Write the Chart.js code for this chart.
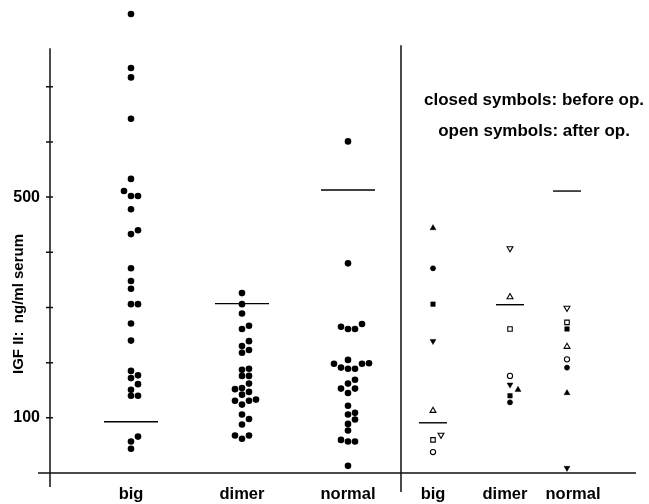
<!DOCTYPE html>
<html>
<head>
<title>IGF II serum levels</title>
<script src="https://cdn.jsdelivr.net/npm/chart.js"></script>
<style>
  html, body { margin: 0; padding: 0; background: #fff; }
  #wrap { width: 649px; height: 504px; }
</style>
</head>
<body>
<div id="wrap"><canvas id="igfChart"></canvas></div>
<script>
// categories and where they sit on the (linear) x axis
const groups = ['big', 'dimer', 'normal', 'big', 'dimer', 'normal'];
const groupX = [81, 192, 298, 383, 460, 517];
const labelX = [81, 192, 298, 383, 455, 523];
const dividerX = 351;
const axisTop = 770; // drawn y axis stops here, one dot sits above it

// left panel: individual values, ng/ml
const leftBig = [832, 734, 717, 642, 533, 511, 502, 502, 478, 440, 433, 371, 348, 334,
                 306, 306, 271, 240, 185, 177, 172, 161, 151, 140, 140, 66, 57, 44];
const leftDimer = [326, 306, 289, 267, 261, 239, 230, 223, 218, 189, 187, 176, 176, 162,
                   154, 152, 147, 142, 133, 131, 131, 124, 106, 98, 88, 68, 68, 62];
const leftNormal = [601, 380, 270, 265, 261, 261, 205, 199, 198, 198, 191, 189, 189, 169,
                    162, 153, 153, 145, 122, 109, 106, 97, 89, 77, 60, 57, 57, 13];

// horizontal bars, one per column
const meanValues = [93, 307, 513, 91, 305, 511];

// right panel, per patient symbol: triangle, circle, square, inverted triangle
const beforeBig = [444, 371, 306, 239];
const beforeDimer = [151, 128, 140, 160];
const beforeNormal = [145, 191, 261, 9];
const afterBig = [113, 38, 60, 69];
const afterDimer = [319, 176, 261, 407];
const afterNormal = [229, 206, 273, 299];

const yLabelled = [100, 500];
const FONT = '"Liberation Sans", Arial, Helvetica, sans-serif';

const shapes = [
  { style: 'triangle', rot: 0, r: 3.4 },
  { style: 'circle', rot: 0, r: 2.6 },
  { style: 'rect', rot: 0, r: 3.2 },
  { style: 'triangle', rot: 180, r: 3.4 }
];

function dots(values, g) {
  return values.map(v => ({ x: groupX[g], y: v, g: g }));
}

const datasets = [
  {
    label: 'left',
    dodge: true,
    data: [...dots(leftBig, 0), ...dots(leftDimer, 1), ...dots(leftNormal, 2)],
    pointStyle: 'circle',
    pointRadius: 3.3,
    backgroundColor: '#000',
    borderColor: '#000',
    borderWidth: 0
  }
];

shapes.forEach((s, k) => {
  datasets.push({
    label: 'before ' + k,
    dodge: true,
    data: [
      { x: groupX[3], y: beforeBig[k], g: 3 },
      { x: groupX[4], y: beforeDimer[k], g: 4 },
      { x: groupX[5], y: beforeNormal[k], g: 5 }
    ],
    pointStyle: s.style,
    rotation: s.rot,
    pointRadius: s.r,
    backgroundColor: '#000',
    borderColor: '#000',
    borderWidth: 0.5
  });
  datasets.push({
    label: 'after ' + k,
    dodge: true,
    data: [
      { x: groupX[3], y: afterBig[k], g: 3 },
      { x: groupX[4], y: afterDimer[k], g: 4 },
      { x: groupX[5], y: afterNormal[k], g: 5 }
    ],
    pointStyle: s.style,
    rotation: s.rot,
    pointRadius: s.r,
    backgroundColor: '#fff',
    borderColor: '#000',
    borderWidth: 1.1
  });
});

datasets.push({
  label: 'mean',
  data: meanValues.map((v, i) => ({ x: groupX[i], y: v })),
  pointStyle: 'line',
  pointRadius: ctx => (ctx.dataIndex < 3 ? 27 : 14),
  borderColor: '#000',
  borderWidth: 1.4
});

datasets.forEach(ds => { ds.clip = false; ds.pointHoverRadius = ds.pointRadius; });

// axis lines, tick marks and the panel divider
const framePlugin = {
  id: 'frame',
  beforeDatasetsDraw(chart) {
    const { ctx, chartArea: a, scales: { x, y } } = chart;
    const y0 = y.getPixelForValue(0);
    const yt = y.getPixelForValue(axisTop);
    ctx.save();
    ctx.strokeStyle = '#111';
    ctx.lineWidth = 1.5;
    ctx.beginPath();
    ctx.moveTo(a.left - 12, y0);
    ctx.lineTo(a.right, y0);
    ctx.moveTo(a.left, yt);
    ctx.lineTo(a.left, y0 + 14);
    y.ticks.forEach(t => {
      if (t.value <= 0 || t.value > axisTop) return;
      const py = y.getPixelForValue(t.value);
      ctx.moveTo(a.left - 4, py);
      ctx.lineTo(a.left + 3, py);
    });
    const dx = x.getPixelForValue(dividerX);
    ctx.moveTo(dx, yt - 3);
    ctx.lineTo(dx, y0 + 19);
    ctx.stroke();
    ctx.restore();
  }
};

// rotated axis title and the symbol note
const textPlugin = {
  id: 'texts',
  afterDraw(chart) {
    const ctx = chart.ctx;
    ctx.save();
    ctx.fillStyle = '#000';
    ctx.textAlign = 'center';
    ctx.textBaseline = 'middle';
    ctx.font = 'bold 15px ' + FONT;
    ctx.translate(19, 304);
    ctx.rotate(-Math.PI / 2);
    ctx.fillText('IGF II:  ng/ml serum', 0, 0);
    ctx.restore();

    ctx.save();
    ctx.fillStyle = '#000';
    ctx.textAlign = 'center';
    ctx.textBaseline = 'middle';
    ctx.font = 'bold 17px ' + FONT;
    ctx.fillText('closed symbols: before op.', 534, 100);
    ctx.fillText('open symbols: after op.', 534, 131);
    ctx.restore();
  }
};

// spread points of equal value sideways, like the hand-drawn scatter
function dodge(chart) {
  const xs = chart.scales.x, ys = chart.scales.y;
  groups.forEach((name, g) => {
    const right = g >= 3;
    const step = right ? 8 : 7;
    const minDist = right ? 6.5 : 5.6;
    const pts = [];
    chart.data.datasets.forEach(ds => {
      if (ds.dodge) ds.data.forEach(p => { if (p.g === g) pts.push(p); });
    });
    pts.sort((a, b) => a.y - b.y);
    const placed = [];
    const cx = xs.getPixelForValue(groupX[g]);
    pts.forEach(p => {
      const py = ys.getPixelForValue(p.y);
      for (let k = 0; k < 21; k++) {
        const lane = k === 0 ? 0 : (k % 2 ? (k + 1) / 2 : -k / 2);
        const px = cx + lane * step;
        if (placed.every(q => Math.hypot(q.x - px, q.y - py) >= minDist)) {
          placed.push({ x: px, y: py });
          p.x = xs.getValueForPixel(px);
          break;
        }
      }
    });
  });
  chart.update('none');
}

const chart = new Chart(document.getElementById('igfChart'), {
  type: 'scatter',
  data: { datasets: datasets },
  options: {
    responsive: true,
    maintainAspectRatio: false,
    animation: false,
    events: [],
    layout: { autoPadding: false, padding: { top: 4, right: 13, bottom: 0, left: 0 } },
    plugins: {
      legend: { display: false },
      tooltip: { enabled: false }
    },
    scales: {
      x: {
        type: 'linear',
        min: 0,
        max: 586,
        grid: { display: false, drawTicks: false, tickLength: 0 },
        border: { display: false },
        afterBuildTicks: scale => { scale.ticks = labelX.map(v => ({ value: v })); },
        afterFit: scale => {
          scale.height = 31;
          scale.paddingLeft = 0;
          scale.paddingRight = 0;
        },
        ticks: {
          autoSkip: false,
          maxRotation: 0,
          padding: 12,
          color: '#000',
          font: { family: FONT, size: 16.5, weight: 'bold' },
          callback: (v, i) => groups[i]
        }
      },
      y: {
        type: 'linear',
        min: 0,
        max: 850,
        grid: { display: false, drawTicks: false, tickLength: 0 },
        border: { display: false },
        afterFit: scale => {
          scale.width = 50;
          scale.paddingTop = 0;
          scale.paddingBottom = 0;
        },
        ticks: {
          stepSize: 100,
          includeBounds: false,
          padding: 10,
          color: '#000',
          font: { family: FONT, size: 16, weight: 'bold' },
          callback: v => (yLabelled.includes(v) ? v : '')
        }
      }
    }
  },
  plugins: [framePlugin, textPlugin]
});

dodge(chart);
</script>
</body>
</html>
